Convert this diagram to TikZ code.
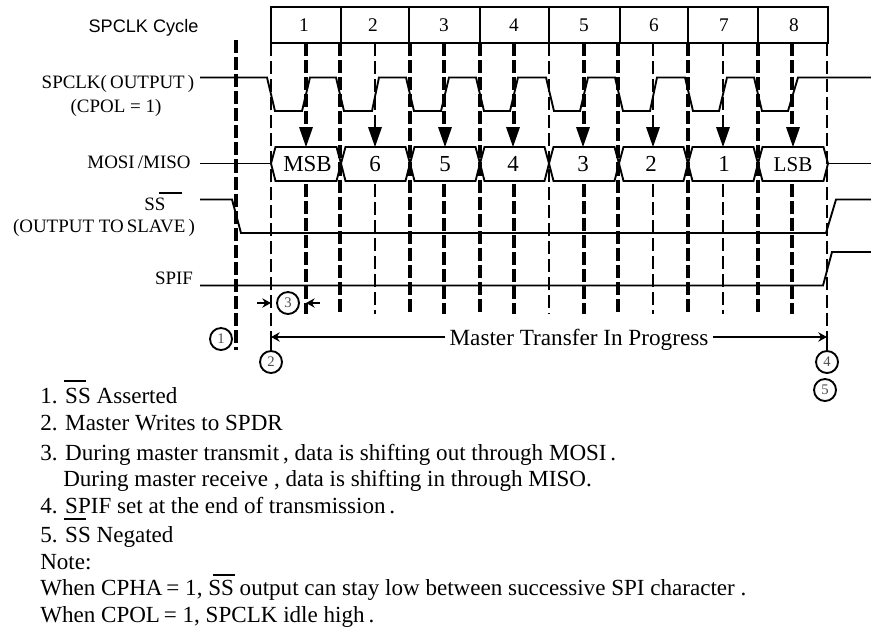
\documentclass[tikz,border=0pt]{standalone}
\usepackage{fontspec}
\setmainfont{Liberation Serif}
\newfontfamily\helv{Liberation Sans}
\usetikzlibrary{arrows.meta}
\tikzset{
  sig/.style={line width=1.4pt,line join=miter},
  thinguide/.style={line width=1.2pt,dash pattern=on 9.8pt off 3.7pt},
  thickguide/.style={line width=2.5pt,dash pattern=on 9.8pt off 3pt},
  hexa/.style={line width=1.4pt},
  cyc/.style={line width=1.4pt},
  downtip/.style={fill=black,draw=none},
  lab/.style={inner sep=0pt,anchor=base,font=\fontsize{14.2}{16}\selectfont},
  cycnum/.style={inner sep=0pt,anchor=base,font=\fontsize{14.5}{16}\selectfont},
  bitlab/.style={inner sep=0pt,anchor=base,font=\fontsize{17.2}{18}\selectfont},
  listtxt/.style={inner sep=0pt,anchor=base west,font=\fontsize{17.3}{20}\selectfont},
  numcirc/.style={circle,draw,line width=1.4pt,minimum size=16.5pt,inner sep=0pt,font=\fontsize{11}{12}\selectfont,text=black!70},
  bar/.style={line width=1.2pt},
  tip/.style={-{Stealth[length=6.5pt,width=7pt]},line width=1.3pt}
}
\begin{document}
\begin{tikzpicture}[x=0.75pt,y=-0.75pt]
\useasboundingbox (0,0) rectangle (871,629);

% boundary guides run through the data row
\foreach \gx in {271,827}
  \draw[thinguide] (\gx,43) -- (\gx,337);
\draw[thinguide] (549,43) -- (549,314);
\foreach \gx in {340,410,480,618,688,758}
  \draw[thickguide] (\gx,43) -- (\gx,314);
% centre guides stop at the triangle and resume below the data row
\foreach \gx in {375,653,723}{
  \draw[thinguide] (\gx,43) -- (\gx,127);
  \draw[thinguide] (\gx,184) -- (\gx,314);}
\foreach \gx in {306,444,514,584,792}{
  \draw[thickguide] (\gx,43) -- (\gx,127);
  \draw[thickguide] (\gx,184) -- (\gx,314);}
\draw[thickguide] (236,40) -- (236,350);

% cycle box
\draw[cyc] (271,7) rectangle (828,43);
\foreach \dx in {341,409,480,549,620,688,758}
  \draw[cyc] (\dx,7) -- (\dx,43);
\foreach \n/\cx in {1/304,2/373,3/444,4/514,5/584,6/654,7/724,8/794}
  \node[cycnum] (cyc\n) at (\cx,31) {\n};
\node[inner sep=0pt,anchor=base,font=\helv\fontsize{13.6}{16}\selectfont] (cyclelab) at (143.5,32) {SPCLK Cycle};

% clock
\draw[sig] (200,77.5) -- (267,77.5) -- (275,111) -- (302,111) -- (310,77.5)
  -- (336,77.5) -- (344,111) -- (372,111) -- (379,77.5)
  -- (406,77.5) -- (414,111) -- (441,111) -- (449,77.5)
  -- (476,77.5) -- (484,111) -- (510,111) -- (518,77.5)
  -- (546,77.5) -- (554,111) -- (580,111) -- (588,77.5)
  -- (615,77.5) -- (623,111) -- (650,111) -- (657,77.5)
  -- (685,77.5) -- (693,111) -- (719,111) -- (727,77.5)
  -- (754,77.5) -- (762,111) -- (788,111) -- (798,77.5) -- (871,77.5);

% data
\draw[sig] (200,163.5) -- (271,163.5);
\draw[sig] (827,163.5) -- (871,163.5);
\foreach \a/\b in {271/341,341/410,410/480,480/549,549/619,619/688,688/758,758/828}
  \draw[hexa] (\a,163.5) -- ({\a+4.5},147) -- ({\b-4.5},147) -- (\b,163.5) -- ({\b-4.5},181) -- ({\a+4.5},181) -- cycle;
\node[bitlab] (bit1) at (307.5,171) {MSB};
\node[bitlab] (bit2) at (375,171) {6};
\node[bitlab] (bit3) at (445,171) {5};
\node[bitlab] (bit4) at (513,171) {4};
\node[bitlab] (bit5) at (583,171) {3};
\node[bitlab] (bit6) at (651,171) {2};
\node[bitlab] (bit7) at (724,171) {1};
\node[bitlab,font=\fontsize{15.8}{18}\selectfont] (bit8) at (793,171) {LSB};

% sampling triangles
\foreach \tx in {306,375,445,513,583,653,723,793}
  \fill[downtip] (\tx-7,127) -- (\tx+7,127) -- (\tx,147) -- cycle;

% SS and SPIF
\draw[sig] (200,199.5) -- (232,199.5) -- (241,233) -- (826,233) -- (836,199.5) -- (871,199.5);
\draw[sig] (200,285.5) -- (823,285.5) -- (832,252) -- (871,252);

% signal labels
\node[lab] (l1) at (118,88) {SPCLK(\,OUTPUT\,)};
\node[lab] (l2) at (116,112) {(CPOL = 1)};
\node[lab] (l3) at (139,168) {MOSI\,/MISO};
\node[lab] (l4) at (155,210) {SS};
\draw[bar] (159,193) -- (182,193);
\node[lab] (l5) at (104,232) {(OUTPUT TO\,SLAVE\,)};
\node[lab] (l6) at (174,284) {SPIF};

% numbered marks
\node[numcirc] (c1) at (221,339) {1};
\node[numcirc] (c2) at (271,362) {2};
\node[numcirc] (c3) at (288,303) {3};
\node[numcirc] (c4) at (827,362) {4};
\node[numcirc] (c5) at (825,390) {5};

% delay arrows
\coordinate (d1) at (257,303);
\coordinate (d1e) at (271,303);
\coordinate (d2) at (320,303);
\coordinate (d2e) at (306,303);
\draw[tip] (d1) -- (d1e);
\draw[tip] (d2) -- (d2e);

% master transfer
\node[inner sep=0pt,anchor=base,font=\fontsize{17.4}{20}\selectfont] (mt) at (579,345) {Master Transfer In Progress};
\coordinate (ma) at (271,337);
\coordinate (mb) at (827,337);
\draw[tip] (mt.west |- ma) ++(-4,0) -- (ma);
\draw[tip] (mt.east |- mb) ++(4,0) -- (mb);
\draw[sig] (ma) -- (c2);
\draw[sig] (mb) -- (c4);

% notes
\node[listtxt] (n1) at (40,403) {1. SS Asserted};
\draw[bar] (64,381) -- (86,381);
\node[listtxt] (n2) at (40,430) {2. Master Writes to SPDR};
\node[listtxt] (n3) at (40,460) {3. During master transmit\,, data is shifting out through MOSI\,.};
\node[listtxt] (n3b) at (63,486) {During master receive , data is shifting in through MISO.};
\node[listtxt] (n4) at (40,513) {4. SPIF set at the end of transmission\,.};
\draw[bar] (64,519) -- (86,519);
\node[listtxt] (n5) at (40,542) {5. SS Negated};
\node[listtxt] (n6) at (40,569) {Note:};
\node[listtxt] (n7) at (40,595) {When CPHA\,= 1, SS output can stay low between successive SPI character .};
\draw[bar] (213,575) -- (235,575);
\node[listtxt] (n8) at (40,622) {When CPOL\,= 1, SPCLK idle high\,.};
\end{tikzpicture}
\end{document}
